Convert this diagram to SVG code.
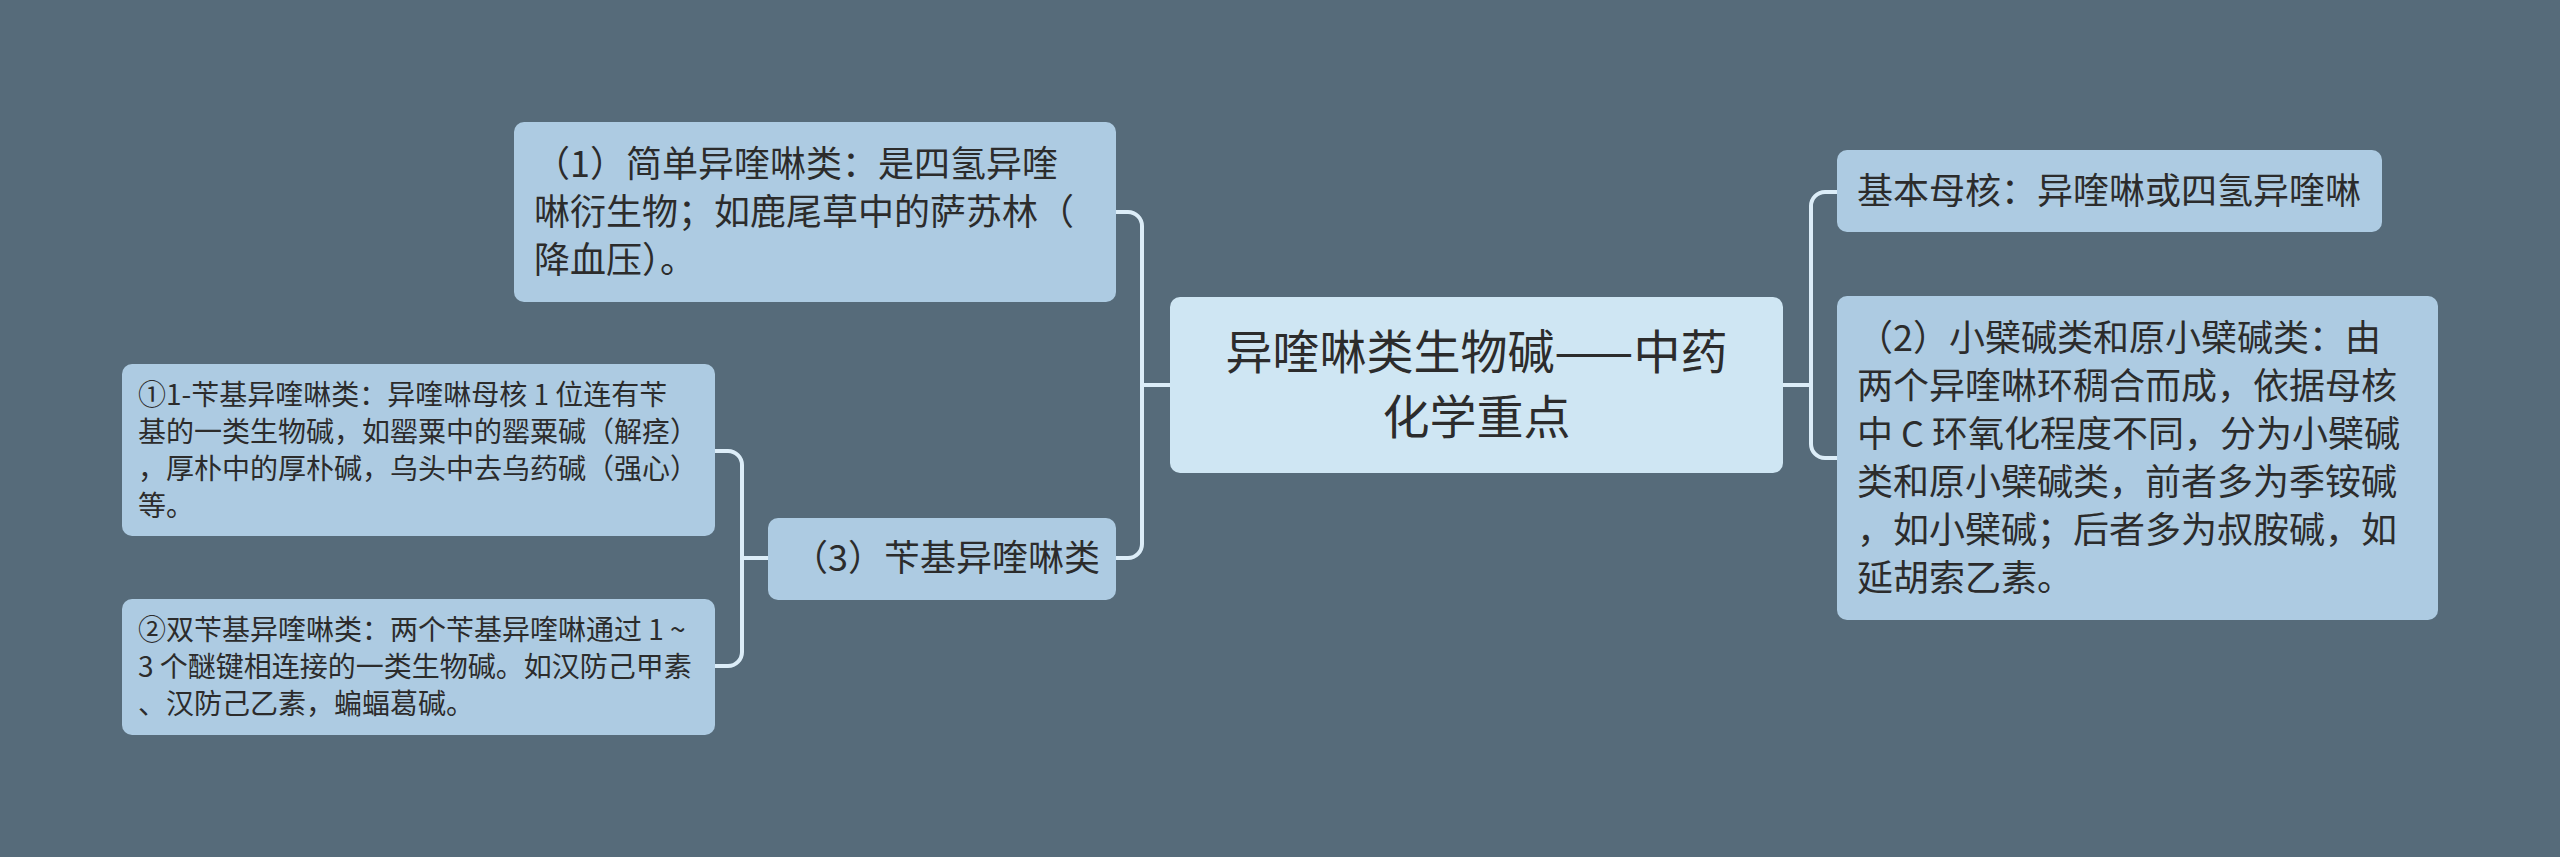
<svg xmlns="http://www.w3.org/2000/svg" width="2560" height="857" viewBox="0 0 2560 857">
<style>
text{font-family:"Noto Sans CJK SC","Noto Sans",sans-serif;fill:#2c2c2c}
.n{fill:#adcbe2}
.c{fill:#cfe6f3}
.t36{font-size:36px}
.t28{font-size:28px}
.t48{font-size:47px}
.ln{fill:none;stroke:#dcedf8;stroke-width:4}
</style>
<rect width="2560" height="857" fill="#566b7a"/>
<g id="connectors">
<path class="ln" d="M1116,212 H1128 A14,14 0 0 1 1142,226 V544 A14,14 0 0 1 1128,558 H1116"/>
<path class="ln" d="M1142,385 H1170"/>
<path class="ln" d="M1837,192 H1825 A14,14 0 0 0 1811,206 V444 A14,14 0 0 0 1825,458 H1837"/>
<path class="ln" d="M1783,385 H1811"/>
<path class="ln" d="M715,451 H728 A14,14 0 0 1 742,465 V652 A14,14 0 0 1 728,666 H715"/>
<path class="ln" d="M742,558 H768"/>
</g>
<g id="center">
<rect class="c" x="1170" y="297" width="613" height="176" rx="10"/>
<text class="t48" x="1476.5" y="369" text-anchor="middle">异喹啉类生物碱——中药</text>
<text class="t48" x="1476.5" y="434" text-anchor="middle">化学重点</text>
</g>
<g id="node1">
<rect class="n" x="514" y="122" width="602" height="180" rx="10"/>
<text class="t36"><tspan x="534" y="177">（1）简单异喹啉类：是四氢异喹</tspan><tspan x="534" y="225">啉衍生物；如鹿尾草中的萨苏林（</tspan><tspan x="534" y="273">降血压）。</tspan></text>
</g>
<g id="node3">
<rect class="n" x="768" y="518" width="348" height="82" rx="10"/>
<text class="t36" x="792" y="571">（3）苄基异喹啉类</text>
</g>
<g id="sub1">
<rect class="n" x="122" y="364" width="593" height="172" rx="10"/>
<text class="t28"><tspan x="138" y="405">①1-苄基异喹啉类：异喹啉母核 1 位连有苄</tspan><tspan x="138" y="442">基的一类生物碱，如罂粟中的罂粟碱（解痉）</tspan><tspan x="138" y="479">，厚朴中的厚朴碱，乌头中去乌药碱（强心）</tspan><tspan x="138" y="516">等。</tspan></text>
</g>
<g id="sub2">
<rect class="n" x="122" y="599" width="593" height="136" rx="10"/>
<text class="t28"><tspan x="138" y="640">②双苄基异喹啉类：两个苄基异喹啉通过 1 ~</tspan><tspan x="138" y="677">3 个醚键相连接的一类生物碱。如汉防己甲素</tspan><tspan x="138" y="714">、汉防己乙素，蝙蝠葛碱。</tspan></text>
</g>
<g id="right1">
<rect class="n" x="1837" y="150" width="545" height="82" rx="10"/>
<text class="t36" x="1857" y="204">基本母核：异喹啉或四氢异喹啉</text>
</g>
<g id="right2">
<rect class="n" x="1837" y="296" width="601" height="324" rx="10"/>
<text class="t36"><tspan x="1857" y="351">（2）小檗碱类和原小檗碱类：由</tspan><tspan x="1857" y="399">两个异喹啉环稠合而成，依据母核</tspan><tspan x="1857" y="447">中 C 环氧化程度不同，分为小檗碱</tspan><tspan x="1857" y="495">类和原小檗碱类，前者多为季铵碱</tspan><tspan x="1857" y="543">，如小檗碱；后者多为叔胺碱，如</tspan><tspan x="1857" y="591">延胡索乙素。</tspan></text>
</g>
</svg>
